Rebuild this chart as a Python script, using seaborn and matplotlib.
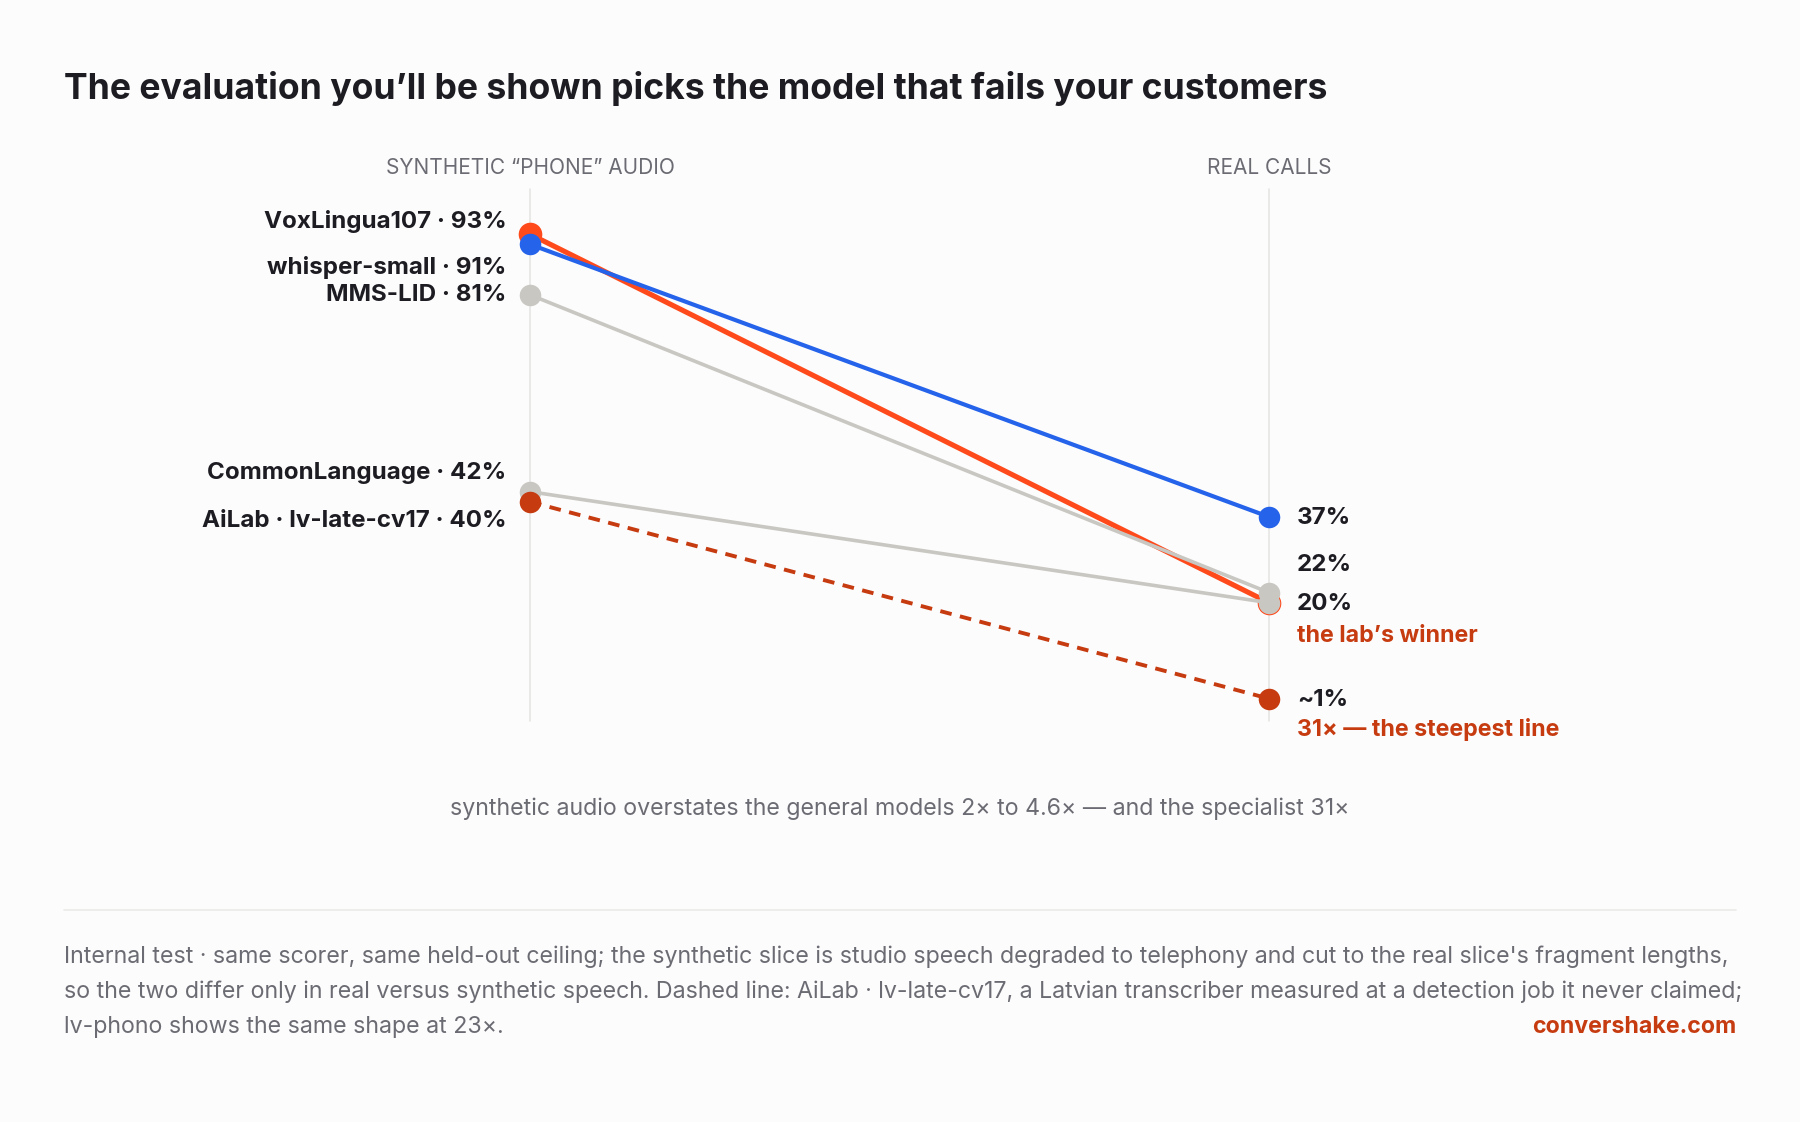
import pandas as pd
import matplotlib.pyplot as plt
import matplotlib.transforms as mtransforms
import seaborn as sns

# data
MODELS = ["VoxLingua107", "whisper-small", "MMS-LID", "CommonLanguage", "AiLab · lv-late-cv17"]
SYNTHETIC = [93, 91, 81, 42, 40]
REAL = [20, 37, 22, 20, 1]
REAL_LABELS = ["20%", "37%", "22%", "20%", "~1%"]
STAGES = ["SYNTHETIC \u201cPHONE\u201d AUDIO", "REAL CALLS"]

COLORS = {
    "VoxLingua107": "#ff4a1c",
    "whisper-small": "#2563eb",
    "MMS-LID": "#c9c7c2",
    "CommonLanguage": "#c9c7c2",
    "AiLab · lv-late-cv17": "#c63b10",
}
WIDTHS = {
    "VoxLingua107": 3.7,
    "whisper-small": 3.0,
    "MMS-LID": 2.6,
    "CommonLanguage": 2.6,
    "AiLab · lv-late-cv17": 2.8,
}
RED = "#c63b10"
INK = "#1c1c22"
MUTED = "#6b6b73"
BG = "#fcfcfc"

TITLE = "The evaluation you\u2019ll be shown picks the model that fails your customers"
CAPTION = "synthetic audio overstates the general models 2\u00d7 to 4.6\u00d7 \u2014 and the specialist 31\u00d7"
FOOTER = [
    "Internal test \u00b7 same scorer, same held-out ceiling; the synthetic slice is studio speech degraded to telephony and cut to the real slice's fragment lengths,",
    "so the two differ only in real versus synthetic speech. Dashed line: AiLab \u00b7 lv-late-cv17, a Latvian transcriber measured at a detection job it never claimed;",
    "lv-phono shows the same shape at 23\u00d7.",
]

df = pd.DataFrame({
    "model": MODELS * 2,
    "stage": [0] * len(MODELS) + [1] * len(MODELS),
    "value": SYNTHETIC + REAL,
})

sns.set_theme(style="white")
plt.rcParams["font.family"] = ["Inter", "DejaVu Sans"]

fig = plt.figure(figsize=(18, 11.22), dpi=100, facecolor=BG)
ax = fig.add_axes([0.2739, 0.3575, 0.4517, 0.4738])
ax.set_facecolor("none")
ax.set_xlim(-0.05, 1.05)
ax.set_ylim(-3.4, 101.9)
for s in ax.spines.values():
    s.set_visible(False)
ax.set_xticks([])
ax.set_yticks([])

for x in (0, 1):
    ax.axvline(x, color="#e6e6e3", lw=1.2, zorder=0)

for m in MODELS:
    sub = df[df["model"] == m]
    ls = (0, (3.0, 2.2)) if m.startswith("AiLab") else "-"
    mec = COLORS[m] if m == "VoxLingua107" else "none"
    sns.lineplot(data=sub, x="stage", y="value", ax=ax, color=COLORS[m],
                 lw=WIDTHS[m], linestyle=ls, marker="o", markersize=15.5,
                 markeredgecolor=mec, markeredgewidth=1.5 if mec != "none" else 0,
                 legend=False)
ax.set_xlabel("")
ax.set_ylabel("")
for line in ax.lines:
    line.set_clip_on(False)

# column headers
hdr = mtransforms.blended_transform_factory(ax.transData, ax.transAxes)
for i, t in enumerate(STAGES):
    txt = ax.annotate(t, xy=(i, 1), xycoords=hdr, xytext=(0, 15), textcoords="offset points",
                      ha="center", va="center", fontsize=15, color=MUTED)

# left labels (offsets in points keep them clear of each other)
left_dy = [9.5, -16.5, -0.5, 13.5, -13.5]
for m, v, dy in zip(MODELS, SYNTHETIC, left_dy):
    ax.annotate(f"{m} \u00b7 {v}%", xy=(0, v), xytext=(-17, dy), textcoords="offset points",
                ha="right", va="center", fontsize=17.4, fontweight="bold", color=INK)

# right labels
right_dy = [-1, -1, 20, 0, -1]
for m, v, lab, dy in zip(MODELS, REAL, REAL_LABELS, right_dy):
    if m == "CommonLanguage":
        continue
    ax.annotate(lab, xy=(1, v), xytext=(20, dy), textcoords="offset points",
                ha="left", va="center", fontsize=17.4, fontweight="bold", color=INK)
ax.annotate("the lab\u2019s winner", xy=(1, REAL[0]), xytext=(20, -24), textcoords="offset points",
            ha="left", va="center", fontsize=16.7, fontweight="bold", color=RED)
ax.annotate("31\u00d7 \u2014 the steepest line", xy=(1, REAL[4]), xytext=(20, -22.5), textcoords="offset points",
            ha="left", va="center", fontsize=16.7, fontweight="bold", color=RED)

# title, caption, footer
fig.text(64 / 1800, 1 - 88 / 1122, TITLE, ha="left", va="center", fontsize=25.6,
         fontweight="bold", color=INK)
fig.text(0.5, 1 - 809 / 1122, CAPTION, ha="center", va="center", fontsize=16.7, color=MUTED)
fig.add_artist(plt.Line2D([64 / 1800, 1736 / 1800], [1 - 910 / 1122] * 2,
                          color="#ebebe8", lw=1.2, transform=fig.transFigure))
for i, line in enumerate(FOOTER):
    fig.text(64 / 1800, 1 - (957 + 35 * i) / 1122, line, ha="left", va="center",
             fontsize=16.7, color=MUTED)
fig.text(1736 / 1800, 1 - 1027 / 1122, "convershake.com", ha="right", va="center",
         fontsize=16.7, fontweight="bold", color=RED)

fig.savefig("out.png", dpi=100, facecolor=BG)
